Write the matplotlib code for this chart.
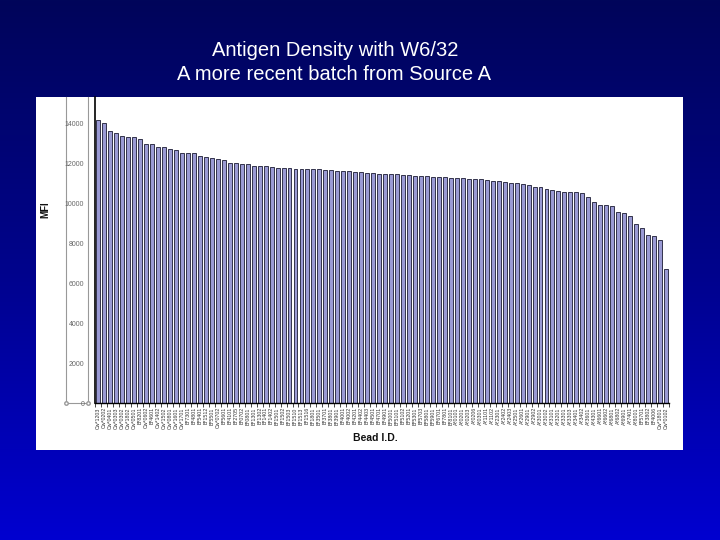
import numpy as np
import matplotlib
matplotlib.use("Agg")
import matplotlib.pyplot as plt
from matplotlib.patches import Rectangle
from matplotlib.colors import LinearSegmentedColormap

plt.rcParams['font.family'] = ['Liberation Sans', 'DejaVu Sans']

# bead IDs (sorted by MFI, as on the slide)
beads = ["Cw*1203", "Cw*0202", "Cw*0401", "Cw*0303", "Cw*0302", "Cw*1802",
         "Cw*0501", "B*8201", "Cw*0602", "B*4601", "Cw*1402", "Cw*1502",
         "Cw*0801", "Cw*1601", "Cw*1701", "B*7301", "B*4801", "B*5401",
         "B*1512", "B*5501", "Cw*0702", "B*5601", "B*4101", "B*2705",
         "B*0702", "B*0801", "B*1301", "B*1302", "B*1401", "B*1402",
         "B*1501", "B*1502", "B*1503", "B*1510", "B*1513", "B*1516",
         "B*1801", "B*3501", "B*3701", "B*3801", "B*3901", "B*4001",
         "B*4002", "B*4201", "B*4402", "B*4403", "B*4501", "B*4701",
         "B*4901", "B*5001", "B*5101", "B*5102", "B*5201", "B*5301",
         "B*5703", "B*5801", "B*5901", "B*6701", "B*7801", "B*8101",
         "A*0101", "A*0201", "A*0203", "A*0206", "A*0301", "A*1101",
         "A*1102", "A*2301", "A*2402", "A*2403",
         "A*2501", "A*2601", "A*2901", "A*2902", "A*3001", "A*3002",
         "A*3101", "A*3201", "A*3301", "A*3303", "A*3401", "A*3402",
         "A*3601", "A*4301", "A*6601", "A*6602", "A*6801", "A*6802",
         "A*6901", "A*7401", "A*8001", "B*5701", "B*3802", "B*4006",
         "Cw*1801", "Cw*0102"]

mfi = [14130, 14000, 13620, 13520, 13330, 13310, 13280, 13180, 12930, 12930,
       12780, 12780, 12680, 12630, 12520, 12480, 12480, 12330, 12280, 12270,
       12180, 12150, 11980, 11980,
       11960, 11930, 11870, 11850, 11830, 11800, 11770, 11750, 11730, 11720,
       11700, 11700, 11680, 11680, 11670, 11650, 11620, 11600, 11580, 11570,
       11550, 11520, 11480, 11460,
       11450, 11450, 11430, 11420, 11380, 11370, 11350, 11330, 11320, 11300,
       11280, 11270, 11250, 11230, 11220, 11200, 11180, 11150, 11120, 11080,
       11050, 11020,
       10980, 10970, 10920, 10820, 10780, 10700, 10650, 10620, 10570, 10570,
       10570, 10480, 10280, 10070, 9900, 9880, 9850, 9570, 9520, 9350,
       8930, 8730, 8380, 8370, 8130, 6720]

yticks = [0, 2000, 4000, 6000, 8000, 10000, 12000, 14000]

W, H = 720, 540
fig = plt.figure(figsize=(7.2, 5.4), dpi=100)

# slide background with gradient
bg = fig.add_axes([0, 0, 1, 1])
cmap = LinearSegmentedColormap.from_list('slide', ['#00055a', '#00038c', '#0000d0'])
bg.imshow(np.linspace(0, 1, 256).reshape(-1, 1), aspect='auto', cmap=cmap,
          extent=[0, W, H, 0])
bg.set_xlim(0, W)
bg.set_ylim(H, 0)
bg.axis('off')

# white chart panel
bg.add_patch(Rectangle((36, 97), 647, 353, facecolor='white', edgecolor='none'))
# grey frame of the axis-title box
bg.plot([66, 66], [97, 403], color='#999999', lw=0.8)
bg.plot([88, 88], [97, 403], color='#999999', lw=0.8)
bg.plot([66, 88], [403, 403], color='#999999', lw=0.8, marker='o',
        markersize=2.5, markerfacecolor='white', markeredgecolor='#999999')

fig.text(0.466, 1 - 50 / H, 'Antigen Density with W6/32', color='white',
         fontsize=14.5, ha='center', va='center')
fig.text(0.464, 1 - 75 / H, 'A more recent batch from Source A', color='white',
         fontsize=14.5, ha='center', va='center')

ax = fig.add_axes([95.3 / W, 1 - 403 / H, (669 - 95.3) / W, (403 - 97) / H])
x = np.arange(len(mfi))
ax.bar(x, mfi, width=0.66, color='#9a9ad4', edgecolor='#1a1a33', linewidth=0.6)
ax.set_xlim(-0.5, len(mfi) - 0.5)
ax.set_ylim(0, 15300)

ax.set_yticks(yticks)
ax.set_yticklabels([str(v) for v in yticks], fontsize=5, color='#666666')
ax.tick_params(axis='y', length=0, pad=8)

ax.set_xticks(x)
ax.set_xticklabels(beads, rotation=90, fontsize=3.8, color='#333333')
ax.set_xticks(np.arange(len(mfi) + 1) - 0.5, minor=True)
ax.tick_params(axis='x', which='major', length=0, pad=3)
ax.tick_params(axis='x', which='minor', length=3, width=0.5, direction='out')

for s in ['top', 'right']:
    ax.spines[s].set_visible(False)
ax.spines['left'].set_linewidth(1.2)
ax.spines['bottom'].set_linewidth(1.0)

fig.text(45 / W, 1 - 210 / H, 'MFI', rotation=90, fontsize=7, fontweight='bold',
         ha='center', va='center', color='#111111')
fig.text(375 / W, 1 - 438 / H, 'Bead I.D.', fontsize=7.5, fontweight='bold',
         ha='center', va='center', color='#111111')

fig.savefig('out.png', dpi=100)
